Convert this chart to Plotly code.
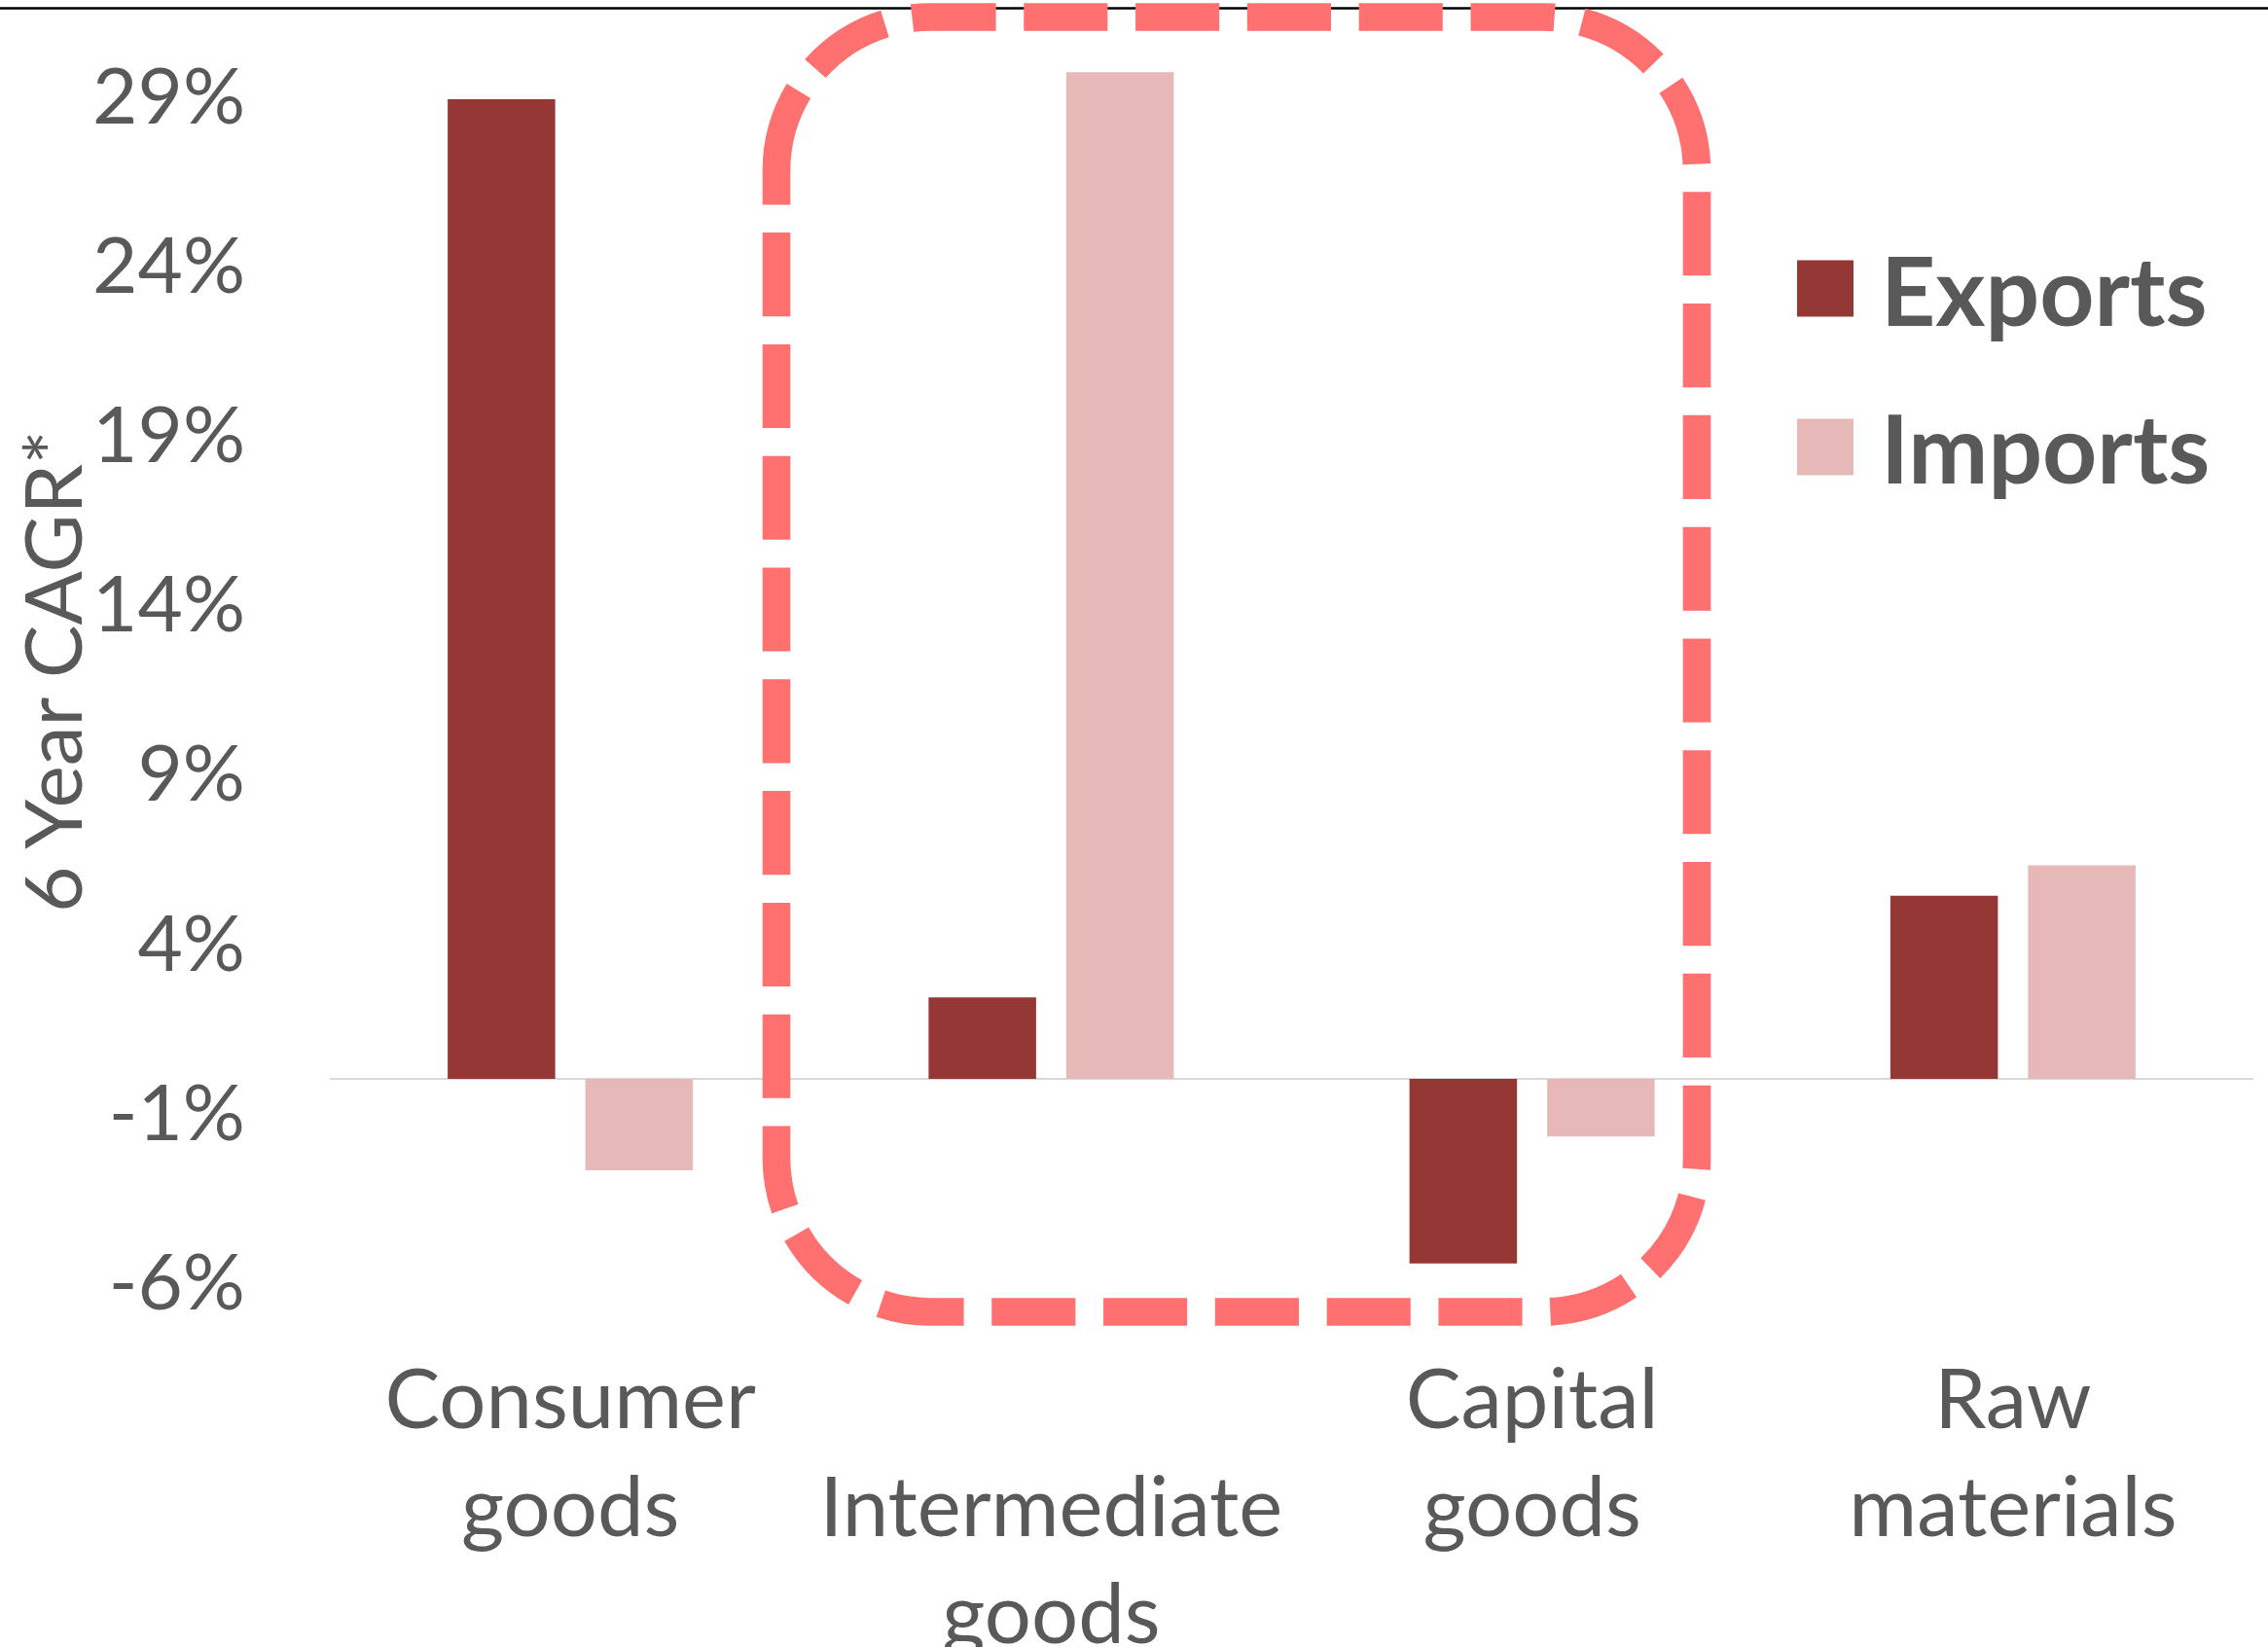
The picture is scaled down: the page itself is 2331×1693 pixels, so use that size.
import plotly.graph_objects as go

# ---- data ----
categories = ["Consumer goods", "Intermediate goods", "Capital goods", "Raw materials"]
category_labels = ["Consumer<br>goods", "<br>Intermediate<br>goods", "Capital<br>goods", "Raw<br>materials"]
exports = [28.9, 2.4, -5.45, 5.4]
imports = [-2.7, 29.7, -1.7, 6.3]
tick_values = [-6, -1, 4, 9, 14, 19, 24, 29]
tick_labels = ["-6%", "-1%", "4%", "9%", "14%", "19%", "24%", "29%"]
series_names = ["Exports", "Imports"]
y_title = "6 Year CAGR*"

# ---- styling ----
W, H = 2331, 1693
FONT = "Lato"
GREY = "#595959"
C_EXP = "#953735"
C_IMP = "#E6B9B8"
HIGHLIGHT = "#FF7070"

# plot area in pixels
L, R = 339, 2316
T, B = 1, 1318
Y_MIN, Y_MAX = -6, 31.8


def px_x(px):
    return (px - L) / (R - L)


def px_y(py):
    return (B - py) / (B - T)


fig = go.Figure()
fig.add_trace(go.Bar(x=categories, y=exports, name=series_names[0],
                     marker=dict(color=C_EXP, line=dict(width=0))))
fig.add_trace(go.Bar(x=categories, y=imports, name=series_names[1],
                     marker=dict(color=C_IMP, line=dict(width=0))))

# rounded dashed frame around intermediate + capital goods
x0, x1, y0, y1, r = 798, 1744, 17.5, 1348.5, 158
k = 0.5523 * r
FRAME_W = 28.7


def P(x, y):
    return f"{px_x(x):.6f},{px_y(y):.6f}"


path = (
    f"M{P(x0, y0 + r)} "
    f"C{P(x0, y0 + r - k)} {P(x0 + r - k, y0)} {P(x0 + r, y0)} "
    f"L{P(x1 - r, y0)} "
    f"C{P(x1 - r + k, y0)} {P(x1, y0 + r - k)} {P(x1, y0 + r)} "
    f"L{P(x1, y1 - r)} "
    f"C{P(x1, y1 - r + k)} {P(x1 - r + k, y1)} {P(x1 - r, y1)} "
    f"L{P(x0 + r, y1)} "
    f"C{P(x0 + r - k, y1)} {P(x0, y1 - r + k)} {P(x0, y1 - r)} Z"
)

shapes = [
    dict(type="line", xref="paper", yref="paper",
         x0=px_x(0), x1=px_x(W), y0=px_y(8.5), y1=px_y(8.5),
         line=dict(color="black", width=2.5)),
    dict(type="path", xref="paper", yref="paper", path=path,
         line=dict(color=HIGHLIGHT, width=FRAME_W,
                   dash=f"{3 * FRAME_W:.1f}px,{FRAME_W:.1f}px")),
]

# legend: large swatches with bold labels
legend_rows = [(series_names[0], C_EXP, 296.5), (series_names[1], C_IMP, 459.5)]
annotations = []
for name, col, cy in legend_rows:
    shapes.append(dict(type="rect", xref="paper", yref="paper",
                       x0=px_x(1847), x1=px_x(1905), y0=px_y(cy - 29), y1=px_y(cy + 29),
                       fillcolor=col, line=dict(width=0)))
    annotations.append(dict(text=f"<b>{name}</b>", xref="paper", yref="paper",
                            x=px_x(1931), y=px_y(cy), xanchor="left", yanchor="middle",
                            showarrow=False, font=dict(family=FONT, size=98, color=GREY)))

annotations.append(dict(text=y_title, xref="paper", yref="paper",
                        x=px_x(52), y=px_y(690), textangle=-90,
                        xanchor="center", yanchor="middle", showarrow=False,
                        font=dict(family=FONT, size=82, color=GREY)))

fig.update_layout(
    width=W, height=H,
    margin=dict(l=L, r=W - R, t=T, b=H - B, pad=0, autoexpand=False),
    paper_bgcolor="white", plot_bgcolor="white",
    barmode="group", bargap=0.4274, bargroupgap=0.219,
    showlegend=False,
    font=dict(family=FONT, color=GREY),
    shapes=shapes, annotations=annotations,
)
fig.update_xaxes(
    automargin=False,
    tickmode="array", tickvals=categories, ticktext=category_labels,
    tickangle=0, showgrid=False, showline=False, ticks="",
    tickfont=dict(family=FONT, size=85, color=GREY),
    ticklabelstandoff=64,
)
fig.update_yaxes(
    automargin=False,
    range=[Y_MIN, Y_MAX], tickmode="array", tickvals=tick_values, ticktext=tick_labels,
    showgrid=False, showline=False, ticks="",
    zeroline=True, zerolinecolor="#D9D9D9", zerolinewidth=2,
    tickfont=dict(family=FONT, size=80, color=GREY),
    ticklabelstandoff=86,
)

fig.write_html("out.html")
